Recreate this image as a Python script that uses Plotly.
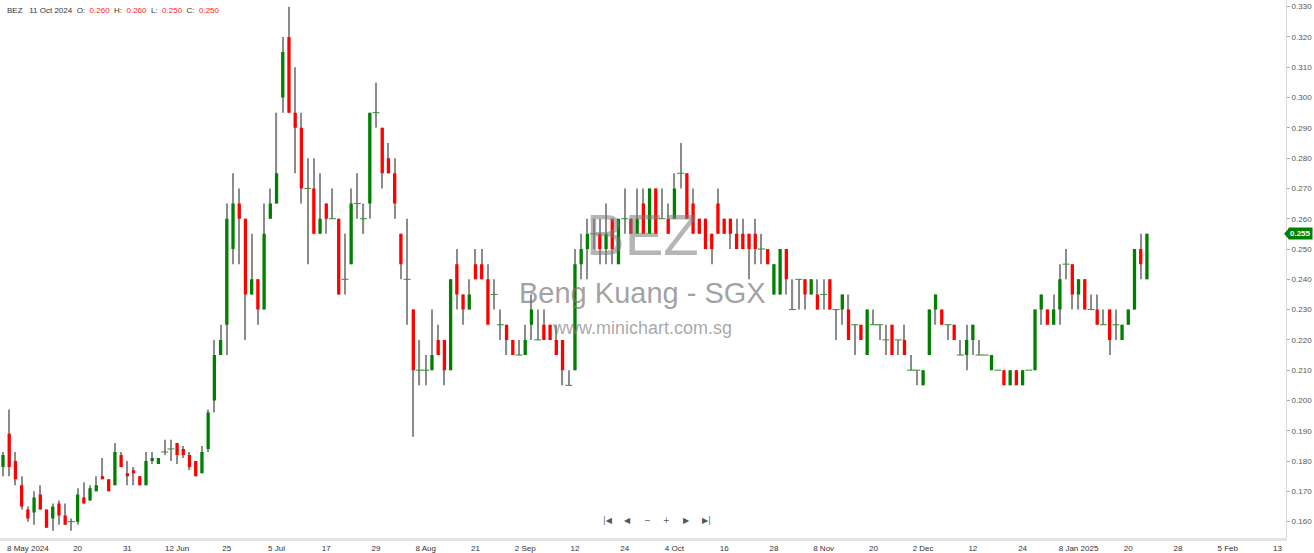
import pandas as pd
import plotly.graph_objects as go

# ---------------- data ----------------
symbol = "BEZ"
company = "Beng Kuang - SGX"
site = "www.minichart.com.sg"
first_day = "2024-05-02"
last_day = "2025-01-23"
sg_holidays = ["2024-05-22", "2024-06-17", "2024-08-09", "2024-10-31", "2024-12-25", "2025-01-01"]

opens = [
    0.178, 0.189, 0.180, 0.172, 0.164, 0.163, 0.169, 0.164, 0.161, 0.166,
    0.162, 0.160, 0.160, 0.168, 0.167, 0.170, 0.175, 0.174, 0.172, 0.182,
    0.176, 0.177, 0.175, 0.172, 0.180, 0.179, 0.183, 0.184, 0.186, 0.184,
    0.182, 0.180, 0.176, 0.184, 0.200, 0.215, 0.225, 0.250, 0.265, 0.260,
    0.235, 0.240, 0.230, 0.260, 0.265, 0.300, 0.320, 0.295, 0.290, 0.270,
    0.270, 0.255, 0.265, 0.260, 0.260, 0.240, 0.245, 0.265, 0.260, 0.265,
    0.295, 0.290, 0.280, 0.275, 0.255, 0.240, 0.230, 0.210, 0.210, 0.210,
    0.220, 0.220, 0.210, 0.245, 0.235, 0.230, 0.245, 0.245, 0.240, 0.235,
    0.225, 0.225, 0.220, 0.215, 0.215, 0.225, 0.220, 0.225, 0.225, 0.220,
    0.220, 0.205, 0.210, 0.245, 0.250, 0.255, 0.255, 0.250, 0.260, 0.245,
    0.260, 0.260, 0.255, 0.265, 0.255, 0.270, 0.260, 0.260, 0.260, 0.275,
    0.275, 0.265, 0.260, 0.260, 0.255, 0.265, 0.260, 0.260, 0.255, 0.255,
    0.255, 0.255, 0.250, 0.250, 0.235, 0.235, 0.250, 0.230, 0.240, 0.240,
    0.235, 0.235, 0.235, 0.240, 0.230, 0.230, 0.230, 0.225, 0.225, 0.215,
    0.225, 0.225, 0.220, 0.225, 0.220, 0.220, 0.210, 0.210, 0.205, 0.215,
    0.230, 0.230, 0.225, 0.225, 0.215, 0.215, 0.220, 0.215, 0.215, 0.210,
    0.210, 0.210, 0.205, 0.210, 0.205, 0.210, 0.210, 0.230, 0.230, 0.225,
    0.230, 0.245, 0.245, 0.235, 0.240, 0.230, 0.230, 0.225, 0.230, 0.225,
    0.220, 0.225, 0.230, 0.250, 0.240,
]
highs = [
    0.183, 0.197, 0.183, 0.175, 0.165, 0.170, 0.172, 0.164, 0.166, 0.167,
    0.166, 0.161, 0.171, 0.173, 0.172, 0.175, 0.181, 0.174, 0.186, 0.183,
    0.180, 0.178, 0.175, 0.183, 0.183, 0.181, 0.187, 0.187, 0.186, 0.185,
    0.183, 0.180, 0.185, 0.197, 0.220, 0.225, 0.265, 0.275, 0.270, 0.260,
    0.255, 0.240, 0.265, 0.270, 0.295, 0.320, 0.330, 0.310, 0.295, 0.280,
    0.280, 0.275, 0.265, 0.270, 0.260, 0.255, 0.270, 0.275, 0.265, 0.295,
    0.305, 0.290, 0.285, 0.280, 0.255, 0.260, 0.230, 0.220, 0.215, 0.230,
    0.225, 0.220, 0.240, 0.250, 0.235, 0.240, 0.250, 0.250, 0.245, 0.240,
    0.230, 0.225, 0.220, 0.220, 0.225, 0.235, 0.230, 0.230, 0.225, 0.225,
    0.220, 0.210, 0.250, 0.255, 0.260, 0.260, 0.260, 0.265, 0.260, 0.260,
    0.270, 0.260, 0.270, 0.270, 0.270, 0.270, 0.270, 0.265, 0.275, 0.285,
    0.275, 0.270, 0.260, 0.260, 0.255, 0.270, 0.260, 0.260, 0.260, 0.260,
    0.255, 0.260, 0.255, 0.250, 0.245, 0.250, 0.250, 0.240, 0.240, 0.240,
    0.240, 0.240, 0.240, 0.240, 0.230, 0.235, 0.235, 0.225, 0.225, 0.230,
    0.230, 0.225, 0.225, 0.225, 0.220, 0.225, 0.215, 0.210, 0.210, 0.230,
    0.235, 0.230, 0.225, 0.225, 0.220, 0.225, 0.225, 0.220, 0.215, 0.215,
    0.210, 0.210, 0.210, 0.210, 0.210, 0.210, 0.230, 0.235, 0.230, 0.235,
    0.245, 0.250, 0.245, 0.240, 0.240, 0.235, 0.235, 0.230, 0.230, 0.230,
    0.225, 0.230, 0.250, 0.255, 0.255,
]
lows = [
    0.175, 0.175, 0.172, 0.164, 0.160, 0.159, 0.164, 0.158, 0.157, 0.159,
    0.159, 0.157, 0.159, 0.166, 0.167, 0.170, 0.174, 0.170, 0.172, 0.178,
    0.172, 0.172, 0.172, 0.172, 0.179, 0.179, 0.182, 0.180, 0.179, 0.181,
    0.177, 0.175, 0.176, 0.183, 0.196, 0.215, 0.215, 0.245, 0.245, 0.220,
    0.235, 0.225, 0.230, 0.260, 0.265, 0.295, 0.295, 0.275, 0.265, 0.245,
    0.255, 0.255, 0.255, 0.260, 0.235, 0.235, 0.245, 0.260, 0.255, 0.260,
    0.290, 0.270, 0.275, 0.260, 0.240, 0.225, 0.188, 0.205, 0.205, 0.210,
    0.215, 0.205, 0.210, 0.230, 0.225, 0.230, 0.240, 0.240, 0.225, 0.230,
    0.220, 0.215, 0.215, 0.215, 0.215, 0.220, 0.220, 0.220, 0.220, 0.215,
    0.205, 0.205, 0.210, 0.240, 0.240, 0.250, 0.245, 0.245, 0.245, 0.245,
    0.255, 0.255, 0.255, 0.255, 0.255, 0.255, 0.260, 0.255, 0.260, 0.270,
    0.260, 0.255, 0.255, 0.250, 0.245, 0.255, 0.255, 0.250, 0.250, 0.250,
    0.240, 0.245, 0.245, 0.245, 0.235, 0.235, 0.235, 0.230, 0.230, 0.230,
    0.235, 0.230, 0.230, 0.230, 0.220, 0.225, 0.220, 0.215, 0.220, 0.215,
    0.225, 0.220, 0.215, 0.215, 0.215, 0.215, 0.210, 0.205, 0.205, 0.215,
    0.225, 0.225, 0.220, 0.220, 0.215, 0.210, 0.215, 0.215, 0.215, 0.210,
    0.210, 0.205, 0.205, 0.205, 0.205, 0.210, 0.210, 0.225, 0.225, 0.225,
    0.225, 0.240, 0.230, 0.230, 0.230, 0.230, 0.225, 0.225, 0.215, 0.220,
    0.220, 0.225, 0.230, 0.240, 0.240,
]
closes = [
    0.182, 0.178, 0.174, 0.165, 0.161, 0.168, 0.164, 0.158, 0.165, 0.162,
    0.159, 0.160, 0.169, 0.166, 0.171, 0.172, 0.174, 0.170, 0.183, 0.178,
    0.175, 0.176, 0.172, 0.180, 0.181, 0.181, 0.183, 0.184, 0.182, 0.182,
    0.178, 0.175, 0.183, 0.196, 0.215, 0.220, 0.260, 0.265, 0.260, 0.235,
    0.240, 0.230, 0.255, 0.265, 0.275, 0.315, 0.295, 0.290, 0.270, 0.270,
    0.255, 0.260, 0.260, 0.260, 0.235, 0.240, 0.265, 0.265, 0.260, 0.295,
    0.295, 0.275, 0.275, 0.265, 0.245, 0.240, 0.210, 0.210, 0.210, 0.215,
    0.215, 0.210, 0.240, 0.235, 0.230, 0.235, 0.240, 0.240, 0.225, 0.235,
    0.225, 0.220, 0.215, 0.215, 0.220, 0.230, 0.220, 0.220, 0.220, 0.215,
    0.210, 0.205, 0.245, 0.250, 0.255, 0.255, 0.250, 0.255, 0.250, 0.260,
    0.260, 0.255, 0.260, 0.255, 0.270, 0.255, 0.260, 0.255, 0.270, 0.275,
    0.260, 0.255, 0.255, 0.250, 0.250, 0.255, 0.255, 0.255, 0.250, 0.250,
    0.250, 0.250, 0.250, 0.245, 0.245, 0.250, 0.240, 0.230, 0.240, 0.235,
    0.240, 0.230, 0.235, 0.230, 0.230, 0.235, 0.220, 0.225, 0.220, 0.230,
    0.225, 0.225, 0.220, 0.215, 0.220, 0.215, 0.210, 0.210, 0.210, 0.230,
    0.235, 0.225, 0.225, 0.220, 0.215, 0.220, 0.225, 0.215, 0.215, 0.215,
    0.210, 0.205, 0.210, 0.205, 0.210, 0.210, 0.230, 0.235, 0.225, 0.230,
    0.240, 0.245, 0.235, 0.240, 0.230, 0.230, 0.225, 0.225, 0.220, 0.225,
    0.225, 0.230, 0.250, 0.245, 0.255,
]

tick_dates = [
    "2024-05-08", "2024-05-20", "2024-05-31", "2024-06-12", "2024-06-25",
    "2024-07-05", "2024-07-17", "2024-07-29", "2024-08-08", "2024-08-21",
    "2024-09-02", "2024-09-12", "2024-09-24", "2024-10-04", "2024-10-16",
    "2024-10-28", "2024-11-08", "2024-11-20", "2024-12-02", "2024-12-12",
    "2024-12-24", "2025-01-08", "2025-01-20", "2025-01-28", "2025-02-05",
    "2025-02-13",
]
tick_labels = [
    "8 May 2024", "20", "31", "12 Jun", "25", "5 Jul", "17", "29", "8 Aug", "21",
    "2 Sep", "12", "24", "4 Oct", "16", "28", "8 Nov", "20", "2 Dec", "12",
    "24", "8 Jan 2025", "20", "28", "5 Feb", "13",
]
price_ticks = [0.16, 0.17, 0.18, 0.19, 0.20, 0.21, 0.22, 0.23, 0.24, 0.25,
               0.26, 0.27, 0.28, 0.29, 0.30, 0.31, 0.32, 0.33]

hover_date = "2024-10-11"
last_price = closes[-1]

# ---------------- axis calendar ----------------
trading_days = pd.bdate_range(first_day, last_day, freq="C", holidays=sg_holidays)
future_days = pd.date_range(trading_days[-1] + pd.Timedelta(days=1), periods=24, freq="D")
axis_days = [d.strftime("%Y-%m-%d") for d in list(trading_days) + list(future_days)]
pos = {d: i for i, d in enumerate(axis_days)}
n = len(opens)
xs = list(range(n))
date_labels = [d.strftime("%d %b %Y") for d in trading_days[:n]]

GREEN = "#008000"
RED = "#ff0000"

# dojis (open == close)
dx = [i for i in xs if opens[i] == closes[i]]
dy = [closes[i] for i in dx]

fig = go.Figure()
# wicks: thin bars from low to high (bar layer sits below the candle bodies)
fig.add_trace(go.Bar(x=xs, base=lows, y=[h - l for h, l in zip(highs, lows)],
                     width=0.19, marker=dict(color="#8c8c8c", line=dict(width=0)),
                     hoverinfo="skip", showlegend=False))
# bodies
fig.add_trace(go.Candlestick(
    x=xs, open=opens, high=highs, low=lows, close=closes, text=date_labels,
    increasing=dict(fillcolor=GREEN, line=dict(color=GREEN, width=0)),
    decreasing=dict(fillcolor=RED, line=dict(color=RED, width=0)),
    showlegend=False, name=symbol))
fig.add_trace(go.Scatter(x=dx, y=dy, mode="markers",
                         marker=dict(symbol="line-ew", size=5,
                                     line=dict(color="#2f8f2f", width=1)),
                         hoverinfo="skip", showlegend=False))

hi = pos[hover_date]
red_span = lambda v: f"<span style='color:#ff2020'>{v:.3f}</span>"
header = (f"{symbol}&nbsp;&nbsp;&nbsp;{pd.Timestamp(hover_date).day} "
          f"{pd.Timestamp(hover_date).strftime('%b %Y')}&nbsp;&nbsp;O:&nbsp;&nbsp;{red_span(opens[hi])}"
          f"&nbsp;&nbsp;H:&nbsp;&nbsp;{red_span(highs[hi])}&nbsp;&nbsp;L:&nbsp;&nbsp;{red_span(lows[hi])}"
          f"&nbsp;&nbsp;C:&nbsp;&nbsp;{red_span(closes[hi])}")

annotations = [
    dict(xref="paper", yref="paper", x=0, y=1, xanchor="left", yanchor="top",
         xshift=5, yshift=-4, text=header, showarrow=False,
         font=dict(family="Liberation Sans, Arial", size=8, color="#333")),
    dict(xref="paper", yref="paper", x=0.4995, y=0.5632, text=symbol, showarrow=False,
         font=dict(family="Liberation Sans, Arial", size=58, color="rgba(120,120,120,0.55)")),
    dict(xref="paper", yref="paper", x=0.4995, y=0.4554, text=company, showarrow=False,
         font=dict(family="Liberation Sans, Arial", size=29, color="rgba(120,120,120,0.7)")),
    dict(xref="paper", yref="paper", x=0.4995, y=0.3903, text=site, showarrow=False,
         font=dict(family="Liberation Sans, Arial", size=18, color="rgba(130,130,130,0.7)")),
    dict(xref="paper", yref="y", x=1, y=last_price, xanchor="left", yanchor="middle",
         xshift=2, text=f"<b>{last_price:.3f}</b>", showarrow=False,
         bgcolor=GREEN, borderpad=1,
         font=dict(family="Liberation Sans, Arial", size=8, color="white")),
]
nav_icons = ["|◀", "◀", "−", "+", "▶", "▶|"]
for k, icon in enumerate(nav_icons):
    annotations.append(dict(xref="paper", yref="paper", x=(608 + 19.6 * k) / 1286, y=0.021,
                            text=icon, showarrow=False,
                            font=dict(family="DejaVu Sans", size=8, color="#555")))

shapes = [
    dict(type="path", xref="paper", yref="y", xsizemode="pixel", ysizemode="pixel",
         xanchor=1, yanchor=last_price, path="M -2,0 L 3,5.5 L 3,-5.5 Z",
         fillcolor=GREEN, line=dict(width=0)),
]

fig.update_layout(
    width=1314, height=553,
    margin=dict(l=0, r=28, t=0, b=15),
    paper_bgcolor="white", plot_bgcolor="white",
    showlegend=False, hovermode=False,
    barmode="overlay", boxgap=0.24,
    annotations=annotations, shapes=shapes,
    xaxis=dict(
        type="linear", range=[-0.4825, 206.37], rangeslider=dict(visible=False),
        tickvals=[pos[d] for d in tick_dates], ticktext=tick_labels,
        showgrid=False, zeroline=False, ticks="",
        showline=True, linecolor="#e3e3e3", linewidth=3,
        tickfont=dict(family="Liberation Sans, Arial", size=8, color="#333"),
    ),
    yaxis=dict(
        side="right", range=[0.1546, 0.3322], tickvals=price_ticks, tickformat=".3f",
        showgrid=False, zeroline=False, ticks="outside", ticklen=3, tickcolor="#aaa",
        showline=True, linecolor="#d8d8d8", linewidth=1,
        tickfont=dict(family="Liberation Sans, Arial", size=8, color="#555"),
    ),
)

fig.write_html("out.html", config={"displayModeBar": False},
               post_script="document.body.style.margin='0';document.body.style.overflow='hidden';")
